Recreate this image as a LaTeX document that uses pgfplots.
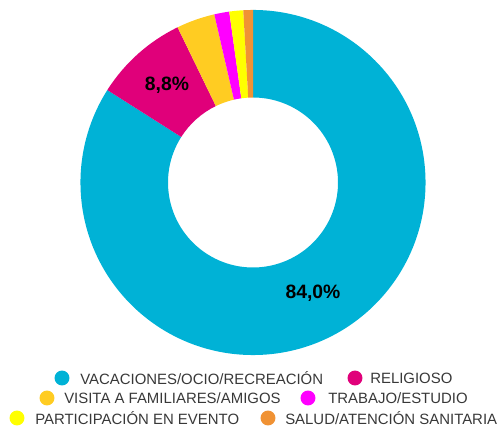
\documentclass[border=0pt]{standalone}
\usepackage{fontspec}
\setmainfont{Liberation Sans}
\usepackage{pgfplots}
\usepackage{pgfplotstable}
\pgfplotsset{compat=1.18}

\definecolor{c0}{RGB}{0,178,214}
\definecolor{c1}{RGB}{224,0,122}
\definecolor{c2}{RGB}{255,204,34}
\definecolor{c3}{RGB}{255,0,255}
\definecolor{c4}{RGB}{255,255,0}
\definecolor{c5}{RGB}{240,146,52}
\definecolor{legtext}{RGB}{56,56,56}

% share of trips by purpose (%)
\pgfplotstableread{
val
84.0
8.8
3.6
1.4
1.3
0.9
}\piedata

\def\Ro{129.4pt}
\def\Ri{63.75pt}
\def\Rd{65.65pt}

\begin{document}
\begin{tikzpicture}
\useasboundingbox (0,0) rectangle (375pt,321pt);
% start and end angle of each slice, clockwise from 12 o'clock
\gdef\cum{0}
\pgfplotsforeachungrouped \i in {0,...,5}{%
  \pgfplotstablegetelem{\i}{val}\of\piedata
  \pgfmathsetmacro\aa{90-3.6*\cum}%
  \pgfmathsetmacro\newcum{\cum+\pgfplotsretval}%
  \pgfmathsetmacro\bb{90-3.6*\newcum}%
  \expandafter\xdef\csname sa\i\endcsname{\aa}%
  \expandafter\xdef\csname sb\i\endcsname{\bb}%
  \xdef\cum{\newcum}%
}
\begin{axis}[
    at={(0,0)}, anchor=south west,
    hide axis,
    scale only axis,
    x=0.75pt, y=0.75pt,
    xmin=0, xmax=500, ymin=0, ymax=428,
    clip=false,
]
\pgfplotsinvokeforeach{0,...,5}{
  \fill[c#1] (axis cs:253,245.5) ++(\csname sa#1\endcsname:\Ro)
    arc[start angle=\csname sa#1\endcsname, end angle=\csname sb#1\endcsname, radius=\Ro]
    -- ++(\csname sb#1\endcsname:-\Rd)
    arc[start angle=\csname sb#1\endcsname, end angle=\csname sa#1\endcsname, radius=\Ri]
    -- cycle;
}
\node[font=\fontsize{14.5}{17}\selectfont\bfseries] at (axis cs:167,343) {8,8\%};
\node[font=\fontsize{14.5}{17}\selectfont\bfseries] at (axis cs:313,135) {84,0\%};

% legend
\begin{scope}[every node/.style={anchor=west, inner sep=0pt, text=legtext, font=\fontsize{11.2}{13}\selectfont}]
\fill[c0] (axis cs:62,50) circle[radius=5.6pt];
\node at (axis cs:80,50) {VACACIONES/OCIO/RECREACIÓN};
\fill[c1] (axis cs:355,50) circle[radius=5.6pt];
\node at (axis cs:370,50) {RELIGIOSO};
\fill[c2] (axis cs:47,30) circle[radius=5.6pt];
\node at (axis cs:64,30) {VISITA A FAMILIARES/AMIGOS};
\fill[c3] (axis cs:308,30) circle[radius=5.6pt];
\node at (axis cs:328,30) {TRABAJO/ESTUDIO};
\fill[c4] (axis cs:17,10) circle[radius=5.6pt];
\node at (axis cs:35,10) {PARTICIPACIÓN EN EVENTO};
\fill[c5] (axis cs:268,10) circle[radius=5.6pt];
\node at (axis cs:285,10) {SALUD/ATENCIÓN SANITARIA};
\end{scope}
\end{axis}
\end{tikzpicture}
\end{document}
